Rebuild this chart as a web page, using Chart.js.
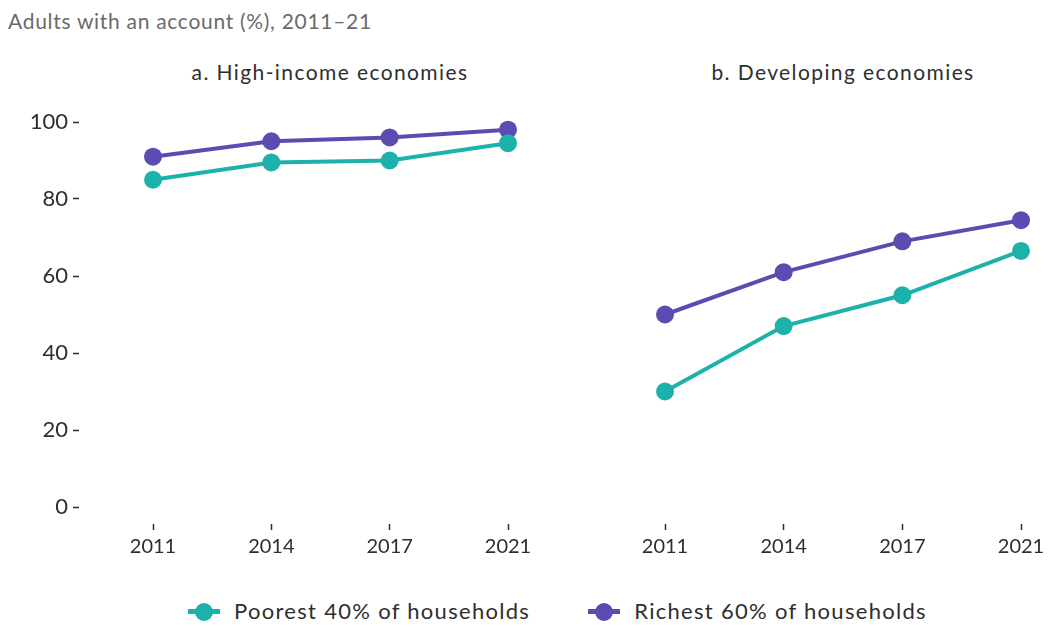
<!DOCTYPE html>
<html>
<head>
<meta charset="utf-8">
<script src="https://cdn.jsdelivr.net/npm/chart.js@4/dist/chart.umd.min.js"></script>
<style>
  body { margin: 0; background: #fff; font-family: Lato, "Noto Sans", sans-serif; }
  #wrap { position: relative; width: 1052px; height: 628px; overflow: hidden; }
  .title { position: absolute; left: 8px; top: 8px; font-size: 21px; letter-spacing: 0.7px; color: #6a6a6a; }
  .panel { position: absolute; top: 59px; font-size: 21px; letter-spacing: 1.4px; color: #2e2e2e; transform: translateX(-50%); white-space: nowrap; }
  #c1 { position: absolute; left: 0; top: 90px; }
  #c2 { position: absolute; left: 560px; top: 90px; }
  #legend { position: absolute; top: 597px; left: 188px; white-space: nowrap; font-size: 22px; letter-spacing: 1.3px; color: #2e2e2e; }
  .item { display: inline-flex; align-items: center; margin-right: 58px; }
  .mk { position: relative; width: 32px; height: 18px; margin-right: 14px; }
  .mk i { position: absolute; left: 0; right: 0; top: 7px; height: 5px; }
  .mk b { position: absolute; left: 7px; top: 1px; width: 18px; height: 18px; border-radius: 50%; }
</style>
</head>
<body>
<div id="wrap">
  <div class="title">Adults with an account (%), 2011–21</div>
  <div class="panel" style="left:330px">a. High-income economies</div>
  <div class="panel" style="left:843px">b. Developing economies</div>
  <canvas id="c1" width="560" height="470"></canvas>
  <canvas id="c2" width="492" height="470"></canvas>
  <div id="legend"></div>
</div>
<script>
const years = ['2011', '2014', '2017', '2021'];
const yTicks = [0, 20, 40, 60, 80, 100];

// a. High-income economies
const highPoorest = [85, 89.5, 90, 94.5];
const highRichest = [91, 95, 96, 98];

// b. Developing economies
const devPoorest = [30, 47, 55, 66.5];
const devRichest = [50, 61, 69, 74.5];

const teal = '#1db1ab';
const purple = '#5a4cb0';
const tickColor = '#2e2e2e';

const toPoints = arr => arr.map((v, i) => ({ x: i, y: v }));

const makeSet = (label, arr, color) => ({
    label: label,
    data: toPoints(arr),
    borderColor: color,
    backgroundColor: color,
    borderWidth: 4,
    pointRadius: 9,
    pointHoverRadius: 9,
    pointBorderWidth: 0,
    clip: false
});

const makeChart = (el, poor, rich, showY) => {
    return new Chart(el, {
        type: 'line',
        data: {
            datasets: [
                makeSet('Poorest 40% of households', poor, teal),
                makeSet('Richest 60% of households', rich, purple)
            ]
        },
        options: {
            responsive: false,
            animation: false,
            layout: { padding: { top: 20, left: 0, right: 0, bottom: 0 } },
            plugins: { legend: { display: false }, tooltip: { enabled: false } },
            scales: {
                x: {
                    type: 'linear',
                    min: -0.6,
                    max: 3.4,
                    afterBuildTicks: s => { s.ticks = years.map((y, i) => ({ value: i })); },
                    afterFit: s => { s.height = 36; },
                    grid: { display: true, drawOnChartArea: false, drawTicks: true, tickLength: 6, color: tickColor, tickWidth: 1.5 },
                    border: { display: false },
                    ticks: {
                        callback: v => years[v],
                        color: tickColor,
                        font: { family: 'Lato', size: 20 },
                        padding: 5,
                        maxRotation: 0
                    }
                },
                y: {
                    display: showY,
                    min: -4.4,
                    max: 103.1,
                    afterBuildTicks: s => { s.ticks = yTicks.map(v => ({ value: v })); },
                    afterFit: s => { s.width = showY ? 79 : 0; },
                    grid: { display: true, drawOnChartArea: false, drawTicks: true, tickLength: 6, color: tickColor, tickWidth: 1.5 },
                    border: { display: false },
                    ticks: {
                        color: tickColor,
                        font: { family: 'Lato', size: 22 },
                        padding: 5
                    }
                }
            }
        }
    });
};

// line the panels up with the reference layout: page pixel of first/last year, and of 0/100
const fitScales = (chart, offsetLeft, firstPx, lastPx) => {
    for (let k = 0; k < 4; k++) {
        const a = chart.chartArea;
        const s = (lastPx - firstPx) / 3;
        const x0 = firstPx - offsetLeft;
        chart.options.scales.x.min = -(x0 - a.left) / s;
        chart.options.scales.x.max = (a.right - x0) / s;
        const top100 = 122 - 90, bottom0 = 507 - 90;
        const u = (bottom0 - top100) / 100;
        chart.options.scales.y.min = -(a.bottom - bottom0) / u;
        chart.options.scales.y.max = 100 + (top100 - a.top) / u;
        chart.update();
    }
};

const chartA = makeChart(document.querySelector('#c1'), highPoorest, highRichest, true);
const chartB = makeChart(document.querySelector('#c2'), devPoorest, devRichest, false);
fitScales(chartA, 0, 153, 508);
fitScales(chartB, 560, 665, 1021);

const legend = document.querySelector('#legend');
[['Poorest 40% of households', teal], ['Richest 60% of households', purple]].forEach(([txt, col]) => {
    const it = document.createElement('span');
    it.className = 'item';
    it.innerHTML = `<span class="mk"><i style="background:${col}"></i><b style="background:${col}"></b></span>${txt}`;
    legend.appendChild(it);
});
</script>
</body>
</html>
